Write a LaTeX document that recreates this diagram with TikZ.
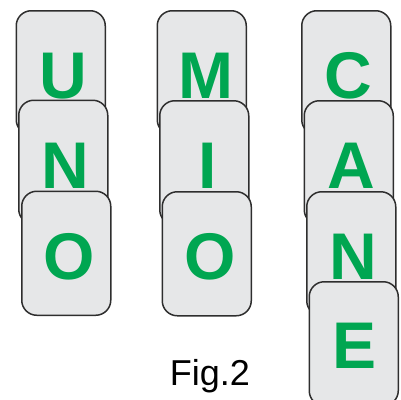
\documentclass[tikz,border=0pt]{standalone}
\usepackage{fontspec}
\setmainfont{Liberation Sans}
\definecolor{cardfill}{HTML}{E6E7E8}
\definecolor{cardline}{HTML}{2E2E2E}
\definecolor{lettergreen}{HTML}{00A651}
\begin{document}
\begin{tikzpicture}[x=1pt,y=-1pt,
  card/.style={draw=cardline, fill=cardfill, line width=1.5pt, rounded corners=15pt,
    minimum width=89pt, minimum height=124pt, inner sep=0pt, anchor=north west},
  letter/.style={text=lettergreen, font=\fontsize{66}{66}\selectfont\bfseries, inner sep=0pt, anchor=base},
  caption/.style={font=\fontsize{36}{36}\selectfont, inner sep=0pt, anchor=base}]
\clip (0,0) rectangle (401,399);
\useasboundingbox (0,0) rectangle (401,399);
% column 1: UNO
\node[card] (c1) at (15.5,10) {};
\node[letter] (l1) at (63,98.5) {U};
\node[card] (c2) at (18,99.5) {};
\node[letter] (l2) at (65.5,188) {N};
\node[card] (c3) at (21,190.5) {};
\node[letter] (l3) at (69.5,279) {O};
% column 2: MIO
\node[card] (c4) at (156.5,10) {};
\node[letter] (l4) at (206,98.5) {M};
\node[card] (c5) at (159,100) {};
\node[letter] (l5) at (208,188) {I};
\node[card] (c6) at (161.5,191) {};
\node[letter] (l6) at (210.5,279) {O};
% column 3: CANE
\node[card] (c7) at (301,10) {};
\node[letter] (l7) at (348.5,98.5) {C};
\node[card] (c8) at (303.5,100) {};
\node[letter] (l8) at (351,188) {A};
\node[card] (c9) at (306,191) {};
\node[letter] (l9) at (353.5,279) {N};
\node[card] (c10) at (308.5,281) {};
\node[letter] (l10) at (355,368.5) {E};
% caption
\node[caption] (cap) at (210,385) {Fig.2};
\end{tikzpicture}
\end{document}
